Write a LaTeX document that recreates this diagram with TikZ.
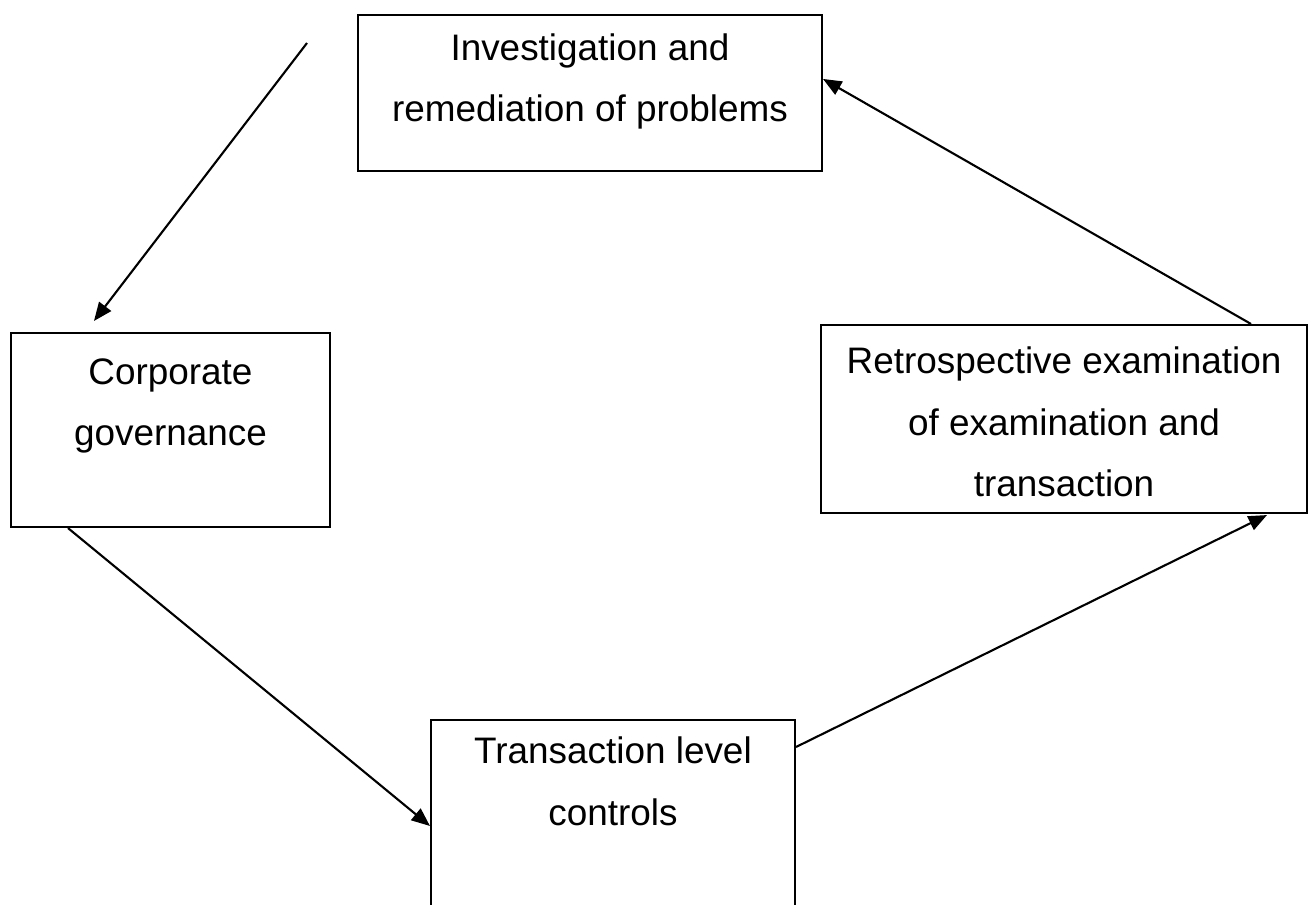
\documentclass[tikz,border=0pt]{standalone}
\usepackage{fontspec}
\setmainfont{Liberation Sans}
\usetikzlibrary{arrows.meta,calc}
\tikzset{
  boxnode/.style={draw=black, line width=1.2pt, rectangle, inner sep=0pt},
  txtnode/.style={anchor=north, inner sep=0pt, align=center, font=\fontsize{21}{35}\selectfont},
  conn/.style={line width=1.2pt, -{Triangle[length=10.5pt,width=8.5pt]}}
}
\begin{document}
\begin{tikzpicture}[x=0.02cm,y=-0.02cm]
\useasboundingbox (0,0) rectangle (1310,904);
\clip (0,0) rectangle (1310,904);
\fill[white] (0,0) rectangle (1310,904);
% boxes
\node[boxnode, minimum width=9.28cm, minimum height=3.12cm] (b1) at (590,93) {};
\node[boxnode, minimum width=6.38cm, minimum height=3.88cm] (b2) at (170.5,430) {};
\node[boxnode, minimum width=9.72cm, minimum height=3.76cm] (b3) at (1064,419) {};
\node[boxnode, minimum width=7.28cm, minimum height=4.8cm] (b4) at (613,840) {};
% texts
\node[txtnode] (t1) at ([yshift=-11pt]b1.north) {Investigation and\\remediation of problems};
\node[txtnode] (t2) at ([yshift=-15pt]b2.north) {Corporate\\governance};
\node[txtnode] (t3) at ([yshift=-13pt]b3.north) {Retrospective examination\\of examination and\\transaction};
\node[txtnode] (t4) at ([yshift=-10pt]b4.north) {Transaction level\\controls};
% connectors
\coordinate (s1) at (307,43);
\draw[conn] (s1) -- ($(b2.north west)+(84,-11)$);
\draw[conn] ($(b2.south west)+(58,0)$) -- ($(b4.north west)+(0,107)$);
\draw[conn] ($(b4.north east)+(0,28)$) -- ($(b3.south west)+(447,1)$);
\draw[conn] ($(b3.north west)+(431,0)$) -- ($(b1.north east)+(0,65)$);
\end{tikzpicture}
\end{document}
